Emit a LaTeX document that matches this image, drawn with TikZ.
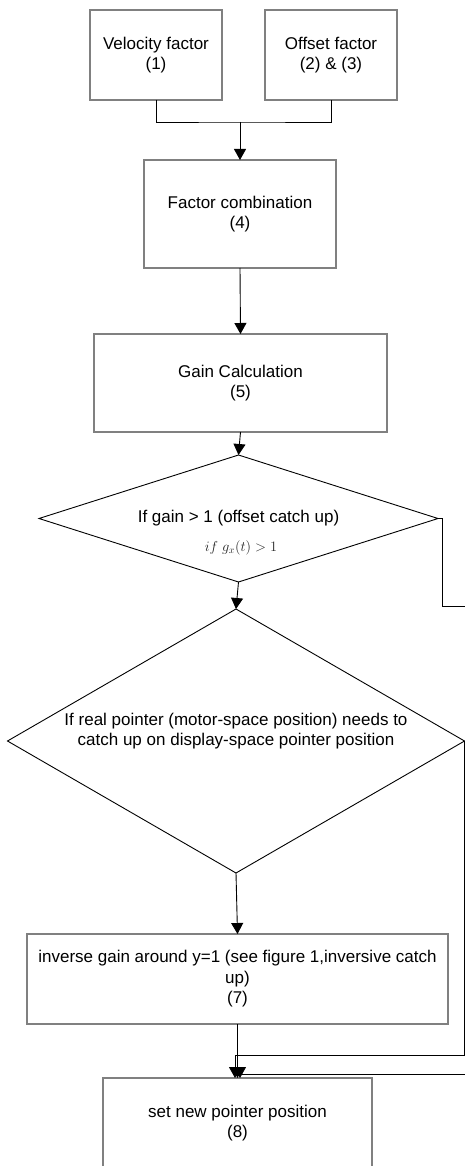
\documentclass[tikz,border=0pt]{standalone}
\usepackage{fontspec}
\setmainfont{Liberation Sans}
\usetikzlibrary{shapes.geometric,arrows.meta}
\begin{document}
\begin{tikzpicture}[x=1pt,y=-1pt,
  every node/.style={font=\fontsize{17}{20.5}\selectfont},
  procbox/.style={draw=black!50,line width=1.3pt,rectangle,inner sep=0pt,outer sep=0pt,align=center},
  decbox/.style={draw=black,line width=0.9pt,diamond,inner sep=0pt,outer sep=0pt},
  plain/.style={inner sep=0pt,outer sep=0pt,align=center},
  conn/.style={draw=black,line width=0.9pt},
  arr/.style={conn,-{Triangle[width=12pt,length=11pt]}}]
\useasboundingbox (0,0) rectangle (465,1166);
\begin{scope}
\clip (0,0) rectangle (465,1166);
% process boxes
\node[procbox,minimum width=132pt,minimum height=90pt] (v) at (156,55) {Velocity factor\\(1)};
\node[procbox,minimum width=132pt,minimum height=90pt] (o) at (331,55) {Offset factor\\(2) \& (3)};
\node[procbox,minimum width=192pt,minimum height=108pt] (fc) at (240,214) {Factor combination\\(4)};
\node[procbox,minimum width=293pt,minimum height=98pt] (gc) at (240.5,383) {Gain Calculation\\(5)};
% decisions
\node[decbox,minimum width=399pt,minimum height=127pt] (d1) at (238.5,518.5) {};
\node[plain] (d1t) at (238.5,518) {If gain > 1 (offset catch up)};
\node[plain,font=\fontsize{14}{16}\selectfont,text=black!85] (d1f) at (241,548) {$if\ g_x(t) > 1$};
\node[decbox,minimum width=457pt,minimum height=264pt] (d2) at (236,741) {};
\node[plain] (d2t) at (236,731) {If real pointer (motor-space position) needs to\\catch up on display-space pointer position};
\node[procbox,minimum width=421pt,minimum height=90pt] (b7) at (237.5,979) {inverse gain around y=1 (see figure 1,inversive catch\\up)\\(7)};
\node[procbox,minimum width=269pt,minimum height=90pt] (b8) at (237.5,1123) {set new pointer position\\(8)};
% junction of the first two boxes
\coordinate (jn) at (240,122);
\draw[conn] (v.south) |- (jn) -| (o.south);
\draw[arr] (jn) -- (fc.north);
% main flow
\draw[arr] (fc.south) -- (gc.north);
\draw[arr] (gc.south) -- (d1.north);
\draw[arr] (d1.south) -- (d2.north);
\draw[arr] (d2.south) -- (b7.north);
\draw[arr] (b7.south) -- (b8.north);
% branch leaving the first decision
\coordinate (e1) at (465,606);
\coordinate (k1) at (442,518.5);
\draw[conn] (d1.east) -- (k1) |- (e1);
% branch from the second decision
\coordinate (r2) at (464,1055);
\draw[arr] (d2.east) -- (d2.east |- r2) -| ([xshift=-2.5pt]b8.north);
% branch coming back in from the right
\coordinate (e2) at (465,1074);
\draw[arr] (e2) -| ([xshift=2.5pt]b8.north);
\end{scope}
\end{tikzpicture}
\end{document}
